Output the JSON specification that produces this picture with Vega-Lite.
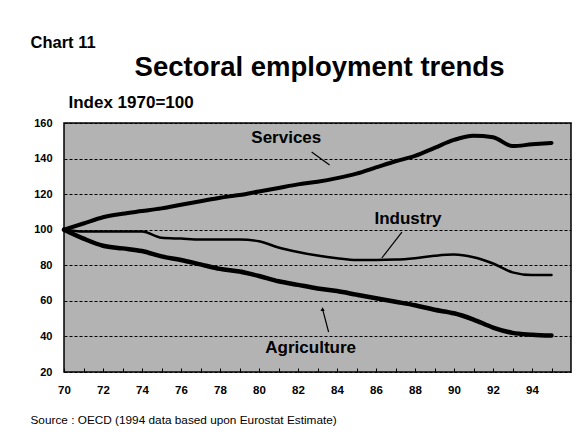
{
  "$schema": "https://vega.github.io/schema/vega-lite/v6.json",
  "autosize": "none",
  "width": 507,
  "height": 249,
  "padding": {"left": 64, "top": 123, "right": 13, "bottom": 66},
  "background": "white",
  "config": {
    "font": "Liberation Sans",
    "view": {"fill": "#b3b3b3", "stroke": "black", "strokeWidth": 1.5}
  },
  "datasets": {
    "series": [
      {"year": 70, "series": "Services", "value": 100},
      {"year": 71, "series": "Services", "value": 103.5},
      {"year": 72, "series": "Services", "value": 107},
      {"year": 73, "series": "Services", "value": 109},
      {"year": 74, "series": "Services", "value": 110.5},
      {"year": 75, "series": "Services", "value": 112},
      {"year": 76, "series": "Services", "value": 114},
      {"year": 77, "series": "Services", "value": 116},
      {"year": 78, "series": "Services", "value": 118},
      {"year": 79, "series": "Services", "value": 119.5},
      {"year": 80, "series": "Services", "value": 121.5},
      {"year": 81, "series": "Services", "value": 123.5},
      {"year": 82, "series": "Services", "value": 125.5},
      {"year": 83, "series": "Services", "value": 127},
      {"year": 84, "series": "Services", "value": 129},
      {"year": 85, "series": "Services", "value": 131.5},
      {"year": 86, "series": "Services", "value": 135},
      {"year": 87, "series": "Services", "value": 138.5},
      {"year": 88, "series": "Services", "value": 141.5},
      {"year": 89, "series": "Services", "value": 146},
      {"year": 90, "series": "Services", "value": 150.5},
      {"year": 91, "series": "Services", "value": 152.8},
      {"year": 92, "series": "Services", "value": 152},
      {"year": 93, "series": "Services", "value": 147},
      {"year": 94, "series": "Services", "value": 148},
      {"year": 95, "series": "Services", "value": 148.8},
      {"year": 70, "series": "Industry", "value": 100},
      {"year": 71, "series": "Industry", "value": 99},
      {"year": 72, "series": "Industry", "value": 99},
      {"year": 73, "series": "Industry", "value": 99},
      {"year": 74, "series": "Industry", "value": 99},
      {"year": 75, "series": "Industry", "value": 95.5},
      {"year": 76, "series": "Industry", "value": 95},
      {"year": 77, "series": "Industry", "value": 94.5},
      {"year": 78, "series": "Industry", "value": 94.5},
      {"year": 79, "series": "Industry", "value": 94.5},
      {"year": 80, "series": "Industry", "value": 93.5},
      {"year": 81, "series": "Industry", "value": 90},
      {"year": 82, "series": "Industry", "value": 87.5},
      {"year": 83, "series": "Industry", "value": 85.5},
      {"year": 84, "series": "Industry", "value": 84},
      {"year": 85, "series": "Industry", "value": 83},
      {"year": 86, "series": "Industry", "value": 83},
      {"year": 87, "series": "Industry", "value": 83.2},
      {"year": 88, "series": "Industry", "value": 84},
      {"year": 89, "series": "Industry", "value": 85.3},
      {"year": 90, "series": "Industry", "value": 86},
      {"year": 91, "series": "Industry", "value": 84.5},
      {"year": 92, "series": "Industry", "value": 81},
      {"year": 93, "series": "Industry", "value": 76},
      {"year": 94, "series": "Industry", "value": 74.5},
      {"year": 95, "series": "Industry", "value": 74.5},
      {"year": 70, "series": "Agriculture", "value": 100},
      {"year": 71, "series": "Agriculture", "value": 95},
      {"year": 72, "series": "Agriculture", "value": 91},
      {"year": 73, "series": "Agriculture", "value": 89.5},
      {"year": 74, "series": "Agriculture", "value": 88},
      {"year": 75, "series": "Agriculture", "value": 85},
      {"year": 76, "series": "Agriculture", "value": 83},
      {"year": 77, "series": "Agriculture", "value": 80.5},
      {"year": 78, "series": "Agriculture", "value": 78},
      {"year": 79, "series": "Agriculture", "value": 76.5},
      {"year": 80, "series": "Agriculture", "value": 74},
      {"year": 81, "series": "Agriculture", "value": 71},
      {"year": 82, "series": "Agriculture", "value": 69},
      {"year": 83, "series": "Agriculture", "value": 67},
      {"year": 84, "series": "Agriculture", "value": 65.5},
      {"year": 85, "series": "Agriculture", "value": 63.5},
      {"year": 86, "series": "Agriculture", "value": 61.5},
      {"year": 87, "series": "Agriculture", "value": 59.5},
      {"year": 88, "series": "Agriculture", "value": 57.5},
      {"year": 89, "series": "Agriculture", "value": 55},
      {"year": 90, "series": "Agriculture", "value": 53},
      {"year": 91, "series": "Agriculture", "value": 49.5},
      {"year": 92, "series": "Agriculture", "value": 45},
      {"year": 93, "series": "Agriculture", "value": 42},
      {"year": 94, "series": "Agriculture", "value": 41},
      {"year": 95, "series": "Agriculture", "value": 40.5}
    ],
    "labels": [
      {"year": 81.4, "value": 151.5, "label": "Services"},
      {"year": 87.64, "value": 106, "label": "Industry"},
      {"year": 82.65, "value": 33.5, "label": "Agriculture"}
    ],
    "pointers": [
      {"year": 82.7, "value": 143.7, "year2": 83.62, "value2": 136.4},
      {"year": 87.33, "value": 98.7, "year2": 86.3, "value2": 84.1},
      {"year": 83.26, "value": 55.4, "year2": 83.57, "value2": 42.5}
    ],
    "arrow": [
      {"year": 83.26, "value": 55.4}
    ]
  },
  "resolve": {"axis": {"x": "independent", "y": "independent"}},
  "layer": [
    {
      "data": {"name": "series"},
      "mark": {"type": "line", "interpolate": "monotone", "color": "black", "strokeCap": "round", "strokeJoin": "round"},
      "encoding": {
        "x": {
          "field": "year", "type": "quantitative",
          "scale": {"domain": [70, 96], "nice": false, "zero": false},
          "axis": {
            "orient": "bottom",
            "values": [70,71,72,73,74,75,76,77,78,79,80,81,82,83,84,85,86,87,88,89,90,91,92,93,94,95],
            "format": "d",
            "labelExpr": "datum.value % 2 === 0 ? datum.label : ''",
            "tickSize": -4, "tickColor": "black", "tickWidth": 1,
            "domain": false, "grid": false,
            "labelFontSize": 11.5, "labelFontWeight": "bold", "labelColor": "black", "labelPadding": 16,
            "labelFlush": false, "labelOverlap": false,
            "title": "Source : OECD (1994 data based upon Eurostat Estimate)",
            "titleFontSize": 11.8, "titleFontWeight": "normal", "titleColor": "black",
            "titleAnchor": "start", "titleAlign": "left", "titleBaseline": "alphabetic",
            "titleX": -34, "titleY": 51
          }
        },
        "y": {
          "field": "value", "type": "quantitative",
          "scale": {"domain": [20, 160], "nice": false, "zero": false},
          "axis": {
            "orient": "left",
            "values": [20, 40, 60, 80, 100, 120, 140, 160],
            "ticks": false, "domain": false,
            "grid": true, "gridColor": "black", "gridDash": [3, 2], "gridWidth": 1, "gridOpacity": 1,
            "labelFontSize": 11, "labelFontWeight": "bold", "labelColor": "black", "labelPadding": 12,
            "title": "Index 1970=100",
            "titleAngle": 0, "titleAlign": "left", "titleBaseline": "alphabetic",
            "titleX": 4, "titleY": -16,
            "titleFontSize": 17, "titleFontWeight": "bold", "titleColor": "black"
          }
        },
        "detail": {"field": "series"},
        "strokeWidth": {
          "field": "series", "type": "nominal",
          "scale": {"type": "ordinal", "domain": ["Services", "Industry", "Agriculture"], "range": [4, 2.5, 4.5]},
          "legend": null
        }
      }
    },
    {
      "data": {"name": "pointers"},
      "mark": {"type": "rule", "color": "black", "strokeWidth": 1.2},
      "encoding": {
        "x": {"field": "year", "type": "quantitative", "axis": null},
        "y": {"field": "value", "type": "quantitative", "axis": null},
        "x2": {"field": "year2"},
        "y2": {"field": "value2"}
      }
    },
    {
      "data": {"name": "arrow"},
      "mark": {"type": "point", "shape": "triangle-up", "filled": true, "color": "black", "size": 18, "opacity": 1},
      "encoding": {
        "x": {"field": "year", "type": "quantitative", "axis": null},
        "y": {"field": "value", "type": "quantitative", "axis": null}
      }
    },
    {
      "data": {"name": "labels"},
      "mark": {"type": "text", "font": "Liberation Sans", "fontSize": 17, "fontWeight": "bold", "color": "black", "align": "center", "baseline": "middle"},
      "encoding": {
        "x": {
          "field": "year", "type": "quantitative",
          "axis": {
            "orient": "top", "labels": false, "ticks": false, "domain": false, "grid": false,
            "title": "Chart 11", "titleAngle": 0, "titleAnchor": "start", "titleAlign": "left", "titleBaseline": "alphabetic",
            "titleX": -34, "titleY": -76,
            "titleFontSize": 16.5, "titleFontWeight": "bold", "titleColor": "black"
          }
        },
        "y": {
          "field": "value", "type": "quantitative",
          "axis": {
            "orient": "right", "labels": false, "ticks": false, "domain": false, "grid": false,
            "title": "Sectoral employment trends", "titleAngle": 0, "titleAlign": "center", "titleBaseline": "alphabetic",
            "titleX": -252, "titleY": -48,
            "titleFontSize": 27.5, "titleFontWeight": "bold", "titleColor": "black"
          }
        },
        "text": {"field": "label"}
      }
    }
  ]
}
